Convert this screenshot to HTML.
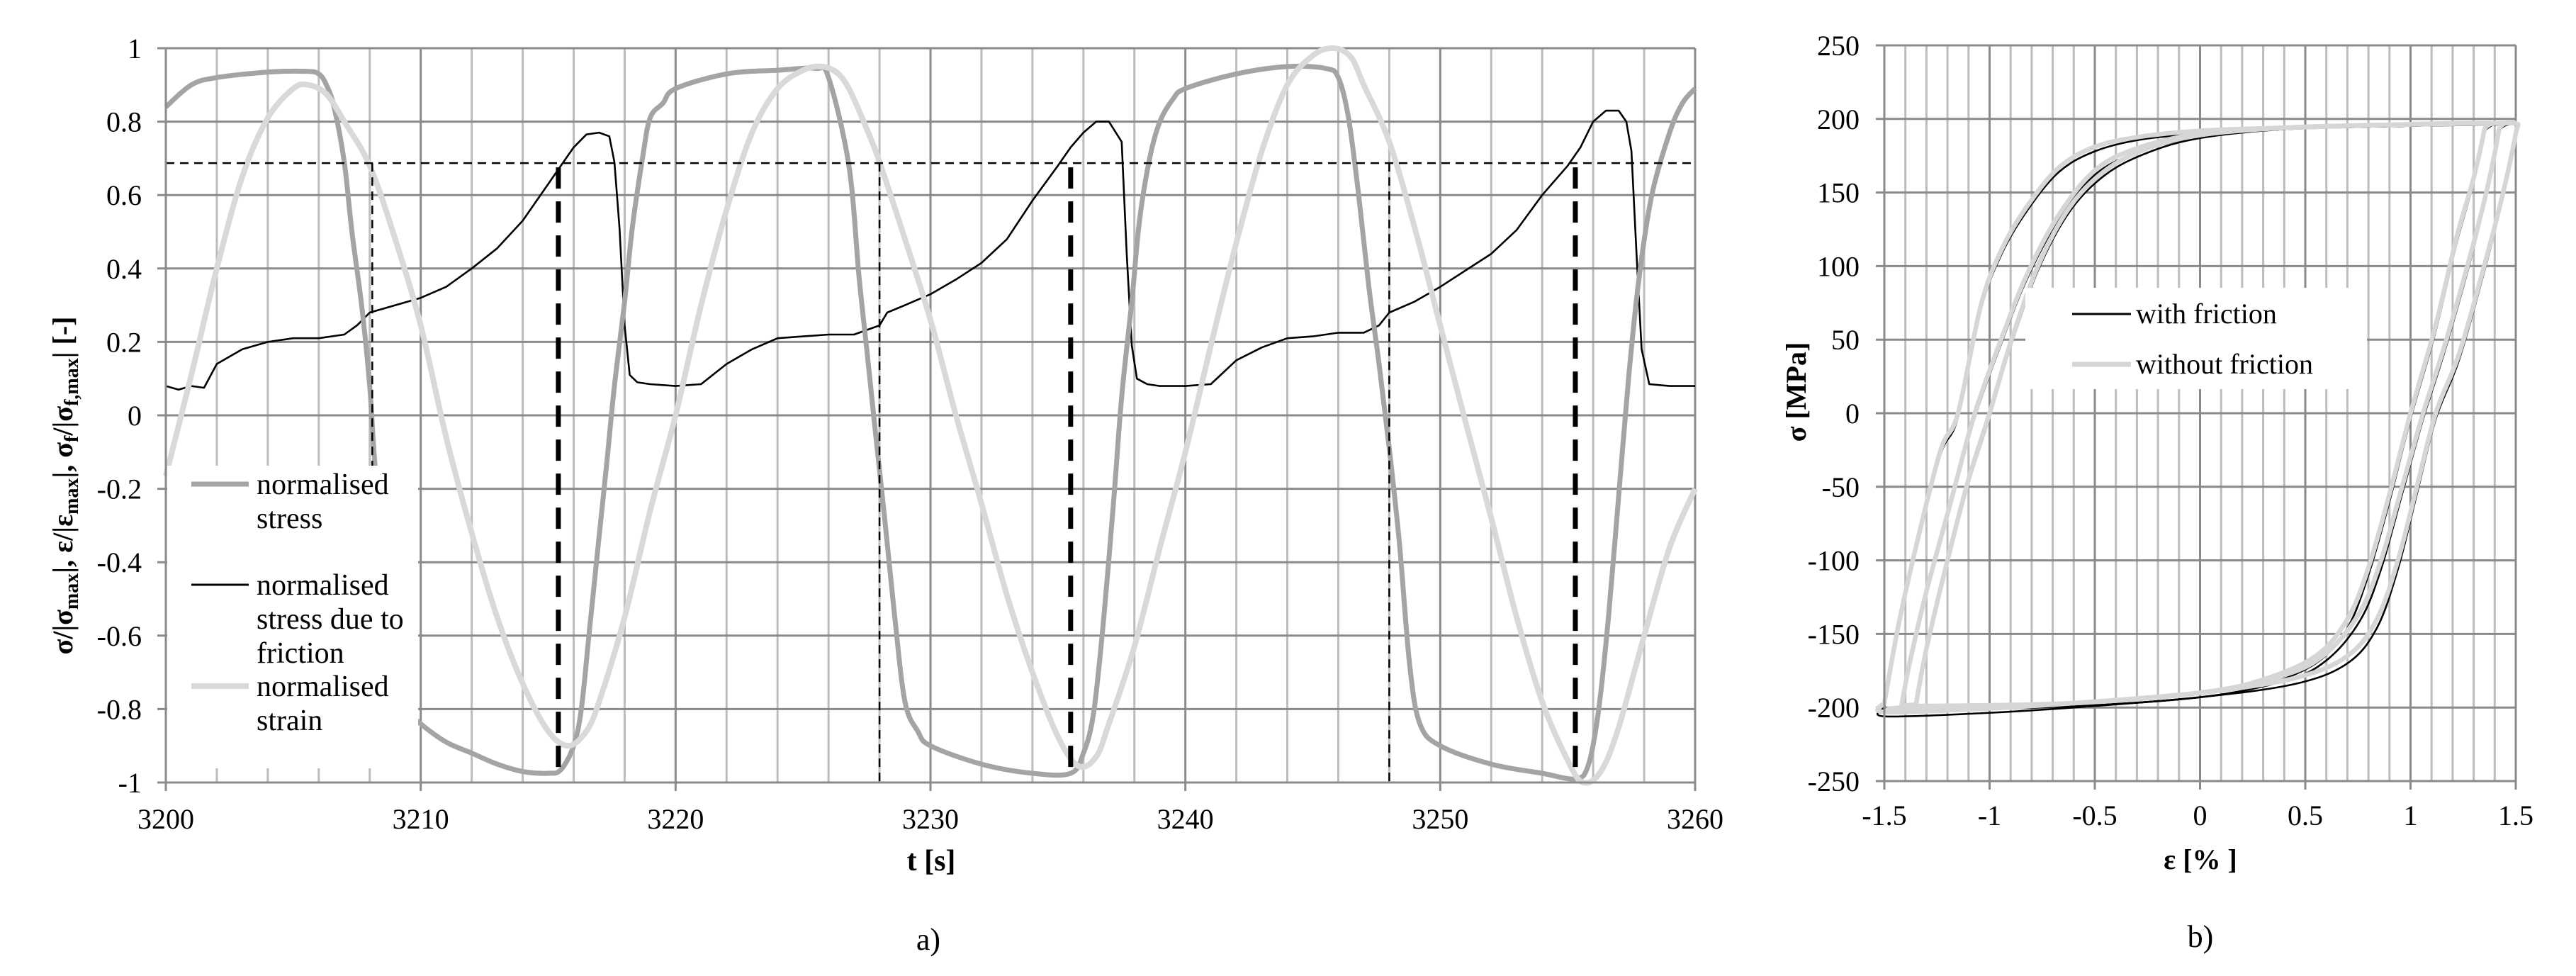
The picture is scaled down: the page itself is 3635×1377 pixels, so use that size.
<!DOCTYPE html>
<html><head><meta charset="utf-8">
<style>
html,body{margin:0;padding:0;background:#fff;}
svg{display:block;}
svg text{font-family:"Liberation Serif","DejaVu Serif",serif;}
</style></head>
<body>
<svg id="root" width="3635" height="1377" viewBox="0 0 3635 1377" xmlns="http://www.w3.org/2000/svg" font-family="Liberation Serif, serif">
<g id="chartA"></g>
<g id="chartB"></g>
</svg>
<script>
// ---------- Chart a) data ----------
const yTicksA = [1, 0.8, 0.6, 0.4, 0.2, 0, -0.2, -0.4, -0.6, -0.8, -1];
const yTickLabelsA = ["1","0.8","0.6","0.4","0.2","0","-0.2","-0.4","-0.6","-0.8","-1"];
const xTicksA = [3200, 3210, 3220, 3230, 3240, 3250, 3260];
const stressT = [3200,3201,3202,3204,3205.5,3206,3206.3,3206.6,3207,3207.3,3207.7,3208,3208.2,3208.6,3209,3209.5,3210,3211,3212,3213,3214,3215,3215.5,3216,3216.3,3216.6,3217,3217.3,3217.6,3218,3218.3,3218.7,3219,3219.5,3220,3222,3224,3225.5,3226,3226.8,3227.2,3227.5,3227.8,3228.2,3228.6,3229,3229.5,3230,3232,3234,3235.5,3236,3236.4,3236.8,3237.2,3237.5,3237.9,3238.2,3238.6,3239,3239.5,3240,3242,3244,3245.5,3246,3246.4,3246.8,3247.2,3247.6,3248,3248.4,3248.8,3249.2,3250,3252,3254,3255.3,3255.8,3256.2,3256.6,3257,3257.4,3257.8,3258.3,3259,3259.5,3260];
const stressV = [0.84,0.9,0.92,0.935,0.937,0.93,0.9,0.84,0.69,0.5,0.29,0.08,-0.13,-0.45,-0.7,-0.8,-0.84,-0.89,-0.92,-0.95,-0.97,-0.975,-0.965,-0.9,-0.8,-0.6,-0.33,-0.13,0.08,0.31,0.51,0.7,0.81,0.85,0.89,0.93,0.94,0.945,0.92,0.68,0.375,0.18,-0.02,-0.28,-0.55,-0.78,-0.86,-0.9,-0.95,-0.975,-0.975,-0.92,-0.81,-0.55,-0.22,0.05,0.31,0.53,0.7,0.8,0.86,0.89,0.93,0.95,0.945,0.92,0.81,0.6,0.35,0.14,-0.09,-0.35,-0.68,-0.84,-0.9,-0.95,-0.975,-0.99,-0.955,-0.81,-0.55,-0.22,0.11,0.375,0.6,0.77,0.85,0.89];
const strainT = [3200,3201,3202,3203,3204,3205,3205.6,3206.3,3207,3208,3209,3210,3211,3212,3213,3214,3215,3215.8,3216.5,3217,3218,3219,3220,3221,3222,3223,3224,3225,3225.7,3226.3,3226.8,3227.5,3228,3229,3230,3231,3232,3233,3234,3235,3235.8,3236.5,3237,3238,3239,3240,3241,3242,3243,3244,3245,3245.8,3246.5,3247,3248,3249,3250,3251,3252,3253,3254,3255,3255.6,3256.3,3257,3258,3259,3260];
const strainV = [-0.165,0.11,0.4,0.65,0.81,0.89,0.9,0.875,0.8,0.68,0.48,0.245,-0.06,-0.32,-0.55,-0.73,-0.86,-0.9,-0.86,-0.78,-0.55,-0.26,0.0,0.3,0.56,0.77,0.89,0.94,0.95,0.935,0.89,0.78,0.69,0.48,0.26,0.0,-0.24,-0.49,-0.7,-0.875,-0.955,-0.93,-0.84,-0.63,-0.36,-0.1,0.19,0.47,0.72,0.9,0.98,1.0,0.975,0.9,0.745,0.51,0.245,-0.02,-0.28,-0.55,-0.78,-0.94,-1.0,-0.97,-0.85,-0.6,-0.36,-0.2];
const frictionT = [3200,3200.5,3201,3201.5,3202,3203,3204,3205,3206,3207,3207.5,3208,3209,3210,3211,3212,3213,3214,3214.5,3215,3215.5,3216,3216.5,3217,3217.4,3217.6,3217.8,3218,3218.2,3218.5,3219,3220,3221,3222,3223,3224,3225,3226,3227,3228,3228.3,3229,3230,3231,3232,3233,3234,3235,3235.5,3236,3236.5,3237,3237.5,3237.7,3237.9,3238.1,3238.5,3239,3240,3241,3242,3243,3244,3245,3246,3247,3247.6,3248,3249,3250,3251,3252,3253,3254,3255,3255.5,3256,3256.5,3257,3257.3,3257.5,3257.7,3257.9,3258.2,3259,3260];
const frictionV = [0.08,0.07,0.08,0.075,0.14,0.18,0.2,0.21,0.21,0.22,0.245,0.28,0.3,0.32,0.35,0.4,0.455,0.53,0.58,0.63,0.68,0.73,0.765,0.77,0.76,0.69,0.51,0.245,0.11,0.09,0.085,0.08,0.085,0.14,0.18,0.21,0.215,0.22,0.22,0.245,0.28,0.3,0.33,0.37,0.415,0.48,0.585,0.68,0.73,0.77,0.8,0.8,0.745,0.44,0.19,0.1,0.085,0.08,0.08,0.085,0.15,0.185,0.21,0.215,0.225,0.225,0.245,0.28,0.31,0.35,0.395,0.44,0.505,0.6,0.68,0.73,0.8,0.83,0.83,0.8,0.72,0.44,0.18,0.085,0.08,0.08];
const thresholdLevel = [0.687];
const thinMarkT = [3208.1, 3228, 3248];
const thinMarkBottom = [-0.14, -1, -1];
const boldMarkT = [3215.4, 3235.5, 3255.3];
const boldMarkBottom = [-0.97, -0.975, -0.99];

// ---------- Chart b) data ----------
const xTicksB = [-1.5,-1,-0.5,0,0.5,1,1.5];
const xTickLabelsB = ["-1.5","-1","-0.5","0","0.5","1","1.5"];
const yTicksB = [250,200,150,100,50,0,-50,-100,-150,-200,-250];
const loop1E = [-1.5,-1.43,-1.33,-1.23,-1.15,-1.04,-0.94,-0.82,-0.67,-0.5,-0.28,0.01,0.4,0.89,1.38,1.5,1.5,1.44,1.35,1.23,1.12,1.03,0.94,0.84,0.7,0.45,0,-0.6,-1.06,-1.5,-1.5];
const loop1S = [-197,-142,-79,-24,0,74,112,141,167,181,188,192,194,196,197,197,190,150,100,40,0,-50,-100,-140,-165,-180,-190,-197,-201,-203,-197];
const loop2E = [-1.42,-1.38,-1.3,-1.18,-1.07,-0.94,-0.82,-0.67,-0.5,-0.3,0,0.4,0.9,1.42,1.42,1.36,1.27,1.16,1.06,0.96,0.86,0.76,0.6,0.4,0,-0.6,-1.42,-1.42];
const loop2S = [-200,-170,-121,-58,0,52,95,135,165,180,190,194,196,197,192,150,100,45,0,-50,-100,-135,-163,-178,-190,-197,-201,-200];
const loop3E = [-1.35,-1.3,-1.2,-1.1,-1.0,-0.9,-0.77,-0.62,-0.45,-0.25,0,0.4,0.9,1.35,1.35,1.3,1.22,1.12,1.0,0.9,0.8,0.7,0.55,0.3,0,-0.6,-1.35,-1.35];
const loop3S = [-198,-160,-100,-45,0,48,100,140,165,180,189,194,196,197,192,160,120,60,0,-55,-105,-140,-165,-181,-190,-197,-199,-198];
const fric1S = [-200,-145,-82,-27,-3,71,109,138,164,178,186,190,193,195,196,196,188,147,96,36,-4,-55,-106,-146,-170,-184,-193,-200,-204,-206,-200];
const fric2S = [-202,-173,-124,-61,-3,49,92,132,162,177,188,193,195,196,190,147,96,41,-4,-55,-106,-141,-168,-182,-193,-199,-203,-202];
const fric3S = [-200,-163,-103,-48,-3,45,97,137,162,177,187,193,195,196,190,157,116,56,-4,-60,-110,-146,-170,-185,-193,-199,-201,-200];

const NS = "http://www.w3.org/2000/svg";
function mk(parent, tag, attrs){ const e=document.createElementNS(NS,tag); for(const k in attrs) e.setAttribute(k,attrs[k]); if(tag==="text") e.setAttribute("font-family","Liberation Serif, serif"); parent.appendChild(e); return e; }
function smoothPath(pts){
  let d = "M"+pts[0][0].toFixed(1)+","+pts[0][1].toFixed(1);
  for(let i=0;i<pts.length-1;i++){
    const p0=pts[Math.max(0,i-1)], p1=pts[i], p2=pts[i+1], p3=pts[Math.min(pts.length-1,i+2)];
    const c1x=p1[0]+(p2[0]-p0[0])/6, c1y=p1[1]+(p2[1]-p0[1])/6;
    const c2x=p2[0]-(p3[0]-p1[0])/6, c2y=p2[1]-(p3[1]-p1[1])/6;
    d+=" C"+c1x.toFixed(1)+","+c1y.toFixed(1)+" "+c2x.toFixed(1)+","+c2y.toFixed(1)+" "+p2[0].toFixed(1)+","+p2[1].toFixed(1);
  }
  return d;
}
function linePath(pts){ return pts.map((p,i)=>(i?"L":"M")+p[0].toFixed(1)+","+p[1].toFixed(1)).join(" "); }

// ---------- Chart a) ----------
const A = document.getElementById("chartA");
const axL=234, axR=2392, axT=68, axB=1104;
const xA = t => axL + (t-3200)/60*(axR-axL);
const yA = v => axB - (v+1)/2*(axB-axT);
for(let t=3202;t<3260;t+=2){ if((t-3200)%10===0) continue;
  const g=mk(A,"line",{x1:xA(t),x2:xA(t),y1:axT,y2:axB,stroke:"#bcbcbc","stroke-width":3});
  
  
}
xTicksA.forEach(t=>{
  const g=mk(A,"line",{x1:xA(t),x2:xA(t),y1:axT,y2:axB+12,stroke:"#8a8a8a","stroke-width":3});
  
  
  const tx=mk(A,"text",{x:xA(t),y:1169,"font-size":40,"text-anchor":"middle",fill:"#000"}); tx.textContent=String(t);
  
  
});
yTicksA.forEach((v,i)=>{
  const g=mk(A,"line",{x1:axL-12,x2:axR,y1:yA(v),y2:yA(v),stroke:"#8a8a8a","stroke-width":3});
  
  
  const tx=mk(A,"text",{x:200,y:yA(v)+14,"font-size":40,"text-anchor":"end",fill:"#000"}); tx.textContent=yTickLabelsA[i];
  
  
});
const friction = mk(A,"path",{d:linePath(frictionT.map((t,i)=>[xA(t),yA(frictionV[i])])),fill:"none",stroke:"#000","stroke-width":2.6,"stroke-linejoin":"round"});


const stress = mk(A,"path",{d:smoothPath(stressT.map((t,i)=>[xA(t),yA(stressV[i])])),fill:"none",stroke:"#a4a4a4","stroke-width":7,"stroke-linejoin":"round"});


const strain = mk(A,"path",{d:smoothPath(strainT.map((t,i)=>[xA(t),yA(strainV[i])])),fill:"none",stroke:"#d9d9d9","stroke-width":8,"stroke-linejoin":"round"});


const hl=mk(A,"line",{x1:axL,x2:axR,y1:yA(thresholdLevel[0]),y2:yA(thresholdLevel[0]),stroke:"#000","stroke-width":2.5,"stroke-dasharray":"12 8"});


thinMarkT.forEach((t,i)=>{
  const l=mk(A,"line",{x1:xA(t),x2:xA(t),y1:yA(thresholdLevel[0]),y2:yA(thinMarkBottom[i]),stroke:"#000","stroke-width":2.5,"stroke-dasharray":"12 8"});
  
  
});
boldMarkT.forEach((t,i)=>{
  const l=mk(A,"line",{x1:xA(t),x2:xA(t),y1:yA(thresholdLevel[0])+6,y2:yA(boldMarkBottom[i]),stroke:"#000","stroke-width":7,"stroke-dasharray":"30 18"});
  
  
});
const lg=mk(A,"g",{});


mk(lg,"rect",{x:236,y:657,width:354,height:427,fill:"#fff"});
const legItems=[{c:"#a4a4a4",w:7,y:683,lines:["normalised","stress"],n:"legend-stress"},{c:"#000",w:3,y:825,lines:["normalised","stress due to","friction"],n:"legend-friction"},{c:"#d9d9d9",w:8,y:968,lines:["normalised","strain"],n:"legend-strain"}];
legItems.forEach(it=>{
  const g=mk(lg,"g",{});
  
  
  mk(g,"line",{x1:270,x2:351,y1:it.y,y2:it.y,stroke:it.c,"stroke-width":it.w});
  it.lines.forEach((s,k)=>{ const tx=mk(g,"text",{x:362,y:it.y+14+k*48,"font-size":42,fill:"#000"}); tx.textContent=s; });
});
mk(A,"line",{x1:axL,x2:axL,y1:axT,y2:axB+12,stroke:"#8a8a8a","stroke-width":3});
mk(A,"line",{x1:axL-12,x2:axR,y1:axB,y2:axB,stroke:"#8a8a8a","stroke-width":3});
const yt=mk(A,"text",{x:0,y:0,"font-size":40,"font-weight":"bold","text-anchor":"middle",transform:"translate(102,685) rotate(-90)"});


yt.innerHTML='σ/|σ<tspan font-size="28" dy="8">max</tspan><tspan dy="-8">|, ε/|ε</tspan><tspan font-size="28" dy="8">max</tspan><tspan dy="-8">|, σ</tspan><tspan font-size="28" dy="8">f</tspan><tspan dy="-8">/|σ</tspan><tspan font-size="28" dy="8">f,max</tspan><tspan dy="-8">| [-]</tspan>';
const xt=mk(A,"text",{x:1314,y:1228,"font-size":42,"font-weight":"bold","text-anchor":"middle"}); xt.textContent="t [s]";


const la=mk(A,"text",{x:1310,y:1340,"font-size":44,"text-anchor":"middle"}); la.textContent="a)";



// ---------- Chart b) ----------
const B=document.getElementById("chartB");
const bL=2659,bR=3550,bT=64,bB=1102;
const xB=e=>bL+(e+1.5)/3*(bR-bL);
const yB=s=>bB-(s+250)/500*(bB-bT);
for(let k=-14;k<=14;k++){ if(k%5===0) continue;
  const e=k/10;
  const g=mk(B,"line",{x1:xB(e),x2:xB(e),y1:bT,y2:bB,stroke:"#bcbcbc","stroke-width":3});
  
  
}
xTicksB.forEach((e,i)=>{
  const g=mk(B,"line",{x1:xB(e),x2:xB(e),y1:bT,y2:bB+12,stroke:"#8a8a8a","stroke-width":3});
  
  
  const tx=mk(B,"text",{x:xB(e),y:1164,"font-size":40,"text-anchor":"middle"}); tx.textContent=xTickLabelsB[i];
  
  
});
yTicksB.forEach(s=>{
  const g=mk(B,"line",{x1:bL-12,x2:bR,y1:yB(s),y2:yB(s),stroke:"#8a8a8a","stroke-width":3});
  
  
  const tx=mk(B,"text",{x:2624,y:yB(s)+14,"font-size":40,"text-anchor":"end"}); tx.textContent=String(s);
  
  
});
[[loop1E,fric1S],[loop2E,fric2S],[loop3E,fric3S]].forEach(([E,S])=>{
  const p=mk(B,"path",{d:smoothPath(E.map((e,i)=>[xB(e),yB(S[i])])),fill:"none",stroke:"#000","stroke-width":2.6});
  
  
});
[[loop1E,loop1S],[loop2E,loop2S],[loop3E,loop3S]].forEach(([E,S])=>{
  const p=mk(B,"path",{d:smoothPath(E.map((e,i)=>[xB(e),yB(S[i])])),fill:"none",stroke:"#d6d6d6","stroke-width":6.5,"stroke-linejoin":"round"});
  
  
});
mk(B,"line",{x1:bL,x2:bL,y1:bT,y2:bB+12,stroke:"#8a8a8a","stroke-width":3});
mk(B,"line",{x1:bL-12,x2:bR,y1:bB,y2:bB,stroke:"#8a8a8a","stroke-width":3});
const lgb=mk(B,"g",{});


mk(lgb,"rect",{x:2858,y:406,width:482,height:143,fill:"#fff"});
const lb1=mk(lgb,"g",{});


mk(lb1,"line",{x1:2924,x2:3007,y1:443,y2:443,stroke:"#000","stroke-width":3});
const lt1=mk(lb1,"text",{x:3014,y:456,"font-size":40}); lt1.textContent="with friction";
const lb2=mk(lgb,"g",{});


mk(lb2,"line",{x1:2924,x2:3007,y1:514,y2:514,stroke:"#d6d6d6","stroke-width":7});
const lt2=mk(lb2,"text",{x:3014,y:527,"font-size":40}); lt2.textContent="without friction";
const ytb=mk(B,"text",{x:0,y:0,"font-size":40,"font-weight":"bold","text-anchor":"middle",transform:"translate(2548,553) rotate(-90)"}); ytb.textContent="σ [MPa]";


const xtb=mk(B,"text",{x:3105,y:1226,"font-size":40,"font-weight":"bold","text-anchor":"middle"}); xtb.textContent="ε [% ]";


const lbb=mk(B,"text",{x:3105,y:1336,"font-size":44,"text-anchor":"middle"}); lbb.textContent="b)";


</script>
</body></html>
